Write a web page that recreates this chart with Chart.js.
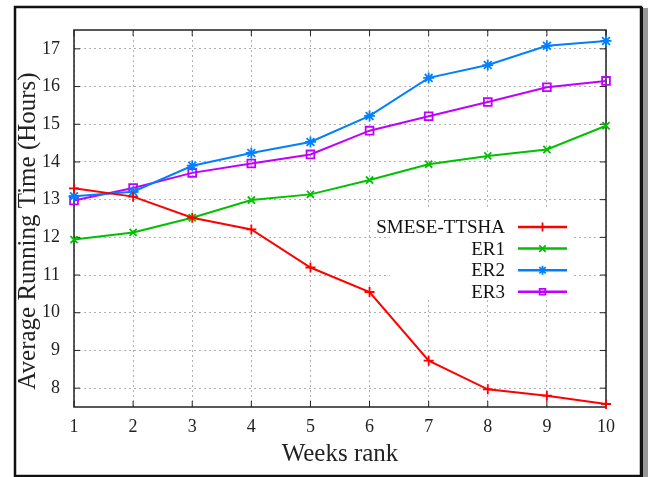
<!DOCTYPE html>
<html>
<head>
<meta charset="utf-8">
<script src="https://cdn.jsdelivr.net/npm/chart.js@4"></script>
<style>
  html, body { margin: 0; padding: 0; background: #fff; }
  canvas { display: block; }
</style>
</head>
<body>
<canvas id="runChart" width="648" height="477"></canvas>
<script>
// Data
const weeks = ['1', '2', '3', '4', '5', '6', '7', '8', '9', '10'];
const yTicks = [8, 9, 10, 11, 12, 13, 14, 15, 16, 17];
const smese = [13.30, 13.08, 12.52, 12.21, 11.20, 10.55, 8.73, 7.97, 7.80, 7.58];
const er1 = [11.94, 12.13, 12.52, 12.99, 13.14, 13.52, 13.94, 14.16, 14.33, 14.96];
const er2 = [13.09, 13.21, 13.90, 14.24, 14.53, 15.22, 16.23, 16.57, 17.08, 17.21];
const er3 = [12.98, 13.31, 13.71, 13.96, 14.20, 14.83, 15.21, 15.59, 15.98, 16.15];
const yTitle = 'Average Running Time (Hours)';

const serif = "'Liberation Serif', 'DejaVu Serif', serif";

function series(label, data, color, style, radius) {
  return {
    label: label,
    data: data,
    borderColor: color,
    backgroundColor: color,
    borderWidth: 2,
    tension: 0,
    pointStyle: style,
    pointRadius: radius,
    pointHoverRadius: radius,
    pointBorderColor: color,
    pointBackgroundColor: 'rgba(0,0,0,0)',
    pointBorderWidth: 1.8,
    clip: false
  };
}

// gnuplot style key, frame, y title and mirrored ticks
const gnuplotBits = {
  id: 'gnuplotBits',
  beforeDraw(chart) {
    const ctx = chart.ctx;
    ctx.save();
    ctx.fillStyle = '#fff';
    ctx.fillRect(0, 0, chart.width, chart.height);
    ctx.restore();
  },
  beforeDatasetsDraw(chart) {
    const ctx = chart.ctx;
    const a = chart.chartArea;
    // key background hides the grid
    ctx.save();
    ctx.fillStyle = '#fff';
    ctx.fillRect(a.right - 216, 207, 183, 91);
    // frame of the plot
    ctx.strokeStyle = '#222';
    ctx.lineWidth = 1.5;
    ctx.strokeRect(a.left, a.top, a.right - a.left, a.bottom - a.top);
    // inward tick marks on all sides
    ctx.lineWidth = 1;
    const x = chart.scales.x, y = chart.scales.y;
    y.ticks.forEach((t, i) => {
      const py = y.getPixelForTick(i);
      ctx.beginPath();
      ctx.moveTo(a.left, py); ctx.lineTo(a.left + 6, py);
      ctx.moveTo(a.right, py); ctx.lineTo(a.right - 6, py);
      ctx.stroke();
    });
    x.ticks.forEach((t, i) => {
      const px = x.getPixelForTick(i);
      ctx.beginPath();
      ctx.moveTo(px, a.bottom); ctx.lineTo(px, a.bottom - 6);
      ctx.moveTo(px, a.top); ctx.lineTo(px, a.top + 6);
      ctx.stroke();
    });
    ctx.restore();
  },
  afterDatasetsDraw(chart) {
    const ctx = chart.ctx;
    const a = chart.chartArea;
    const textRight = a.right - 101;
    const lineFrom = a.right - 88;
    const lineTo = a.right - 39;
    ctx.save();
    ctx.font = '19px ' + serif;
    ctx.textAlign = 'right';
    ctx.textBaseline = 'middle';
    chart.data.datasets.forEach((ds, i) => {
      const py = 227 + i * 21.6;
      ctx.fillStyle = '#111';
      ctx.fillText(ds.label, textRight, py + 1);
      ctx.strokeStyle = ds.borderColor;
      ctx.lineWidth = 2.5;
      ctx.beginPath();
      ctx.moveTo(lineFrom, py);
      ctx.lineTo(lineTo, py);
      ctx.stroke();
      ctx.lineWidth = 1.8;
      ctx.fillStyle = 'rgba(0,0,0,0)';
      Chart.helpers.drawPoint(ctx, {
        pointStyle: ds.pointStyle,
        radius: ds.pointStyle === 'rect' ? 4 : 4.5,
        rotation: 0,
        borderWidth: 1.8
      }, (lineFrom + lineTo) / 2, py);
    });
    ctx.restore();
  },
  afterDraw(chart) {
    const ctx = chart.ctx;
    ctx.save();
    // y axis title, sitting a little below the axis centre as in the figure
    ctx.save();
    ctx.translate(28, 231);
    ctx.rotate(-Math.PI / 2);
    ctx.font = '25px ' + serif;
    ctx.fillStyle = '#222';
    ctx.textAlign = 'center';
    ctx.textBaseline = 'middle';
    ctx.fillText(yTitle, 0, 0);
    ctx.restore();
    // outer frame with a shadow on the right
    ctx.fillStyle = '#999';
    ctx.fillRect(643, 8, 5, 469);
    ctx.strokeStyle = '#111';
    ctx.lineWidth = 2.5;
    ctx.strokeRect(15, 7, 626, 469);
    ctx.lineWidth = 3;
    ctx.beginPath();
    ctx.moveTo(641.5, 7); ctx.lineTo(641.5, 477);
    ctx.stroke();
    ctx.restore();
  }
};

new Chart(document.getElementById('runChart'), {
  type: 'line',
  data: {
    labels: weeks,
    datasets: [
      series('SMESE-TTSHA', smese, '#ff0000', 'cross', 5),
      series('ER1', er1, '#00c000', 'crossRot', 5),
      series('ER2', er2, '#0080ff', 'star', 5.5),
      series('ER3', er3, '#c000ff', 'rect', 5.5)
    ]
  },
  plugins: [gnuplotBits],
  options: {
    responsive: false,
    animation: false,
    events: [],
    layout: { padding: { left: 14, right: 42, top: 30, bottom: 0 } },
    plugins: {
      legend: { display: false },
      tooltip: { enabled: false },
      title: { display: false }
    },
    scales: {
      x: {
        type: 'category',
        offset: false,
        afterFit: s => { s.height = 70; },
        grid: {
          color: '#b0b0b0',
          lineWidth: 1,
          drawTicks: false
        },
        border: { display: false, dash: [2, 3] },
        ticks: {
          color: '#222',
          padding: 9,
          maxRotation: 0,
          font: { family: serif, size: 18 }
        },
        title: {
          display: true,
          text: 'Weeks rank',
          color: '#222',
          padding: { top: 0, bottom: 8 },
          font: { family: serif, size: 25 }
        }
      },
      y: {
        type: 'linear',
        min: 7.5,
        max: 17.5,
        afterFit: s => { s.width = 60; },
        afterBuildTicks: s => { s.ticks = yTicks.map(v => ({ value: v })); },
        grid: {
          color: '#b0b0b0',
          lineWidth: 1,
          drawTicks: false
        },
        border: { display: false, dash: [2, 3] },
        ticks: {
          color: '#222',
          padding: 14,
          font: { family: serif, size: 18 }
        },
        title: { display: false }
      }
    }
  }
});
</script>
</body>
</html>
